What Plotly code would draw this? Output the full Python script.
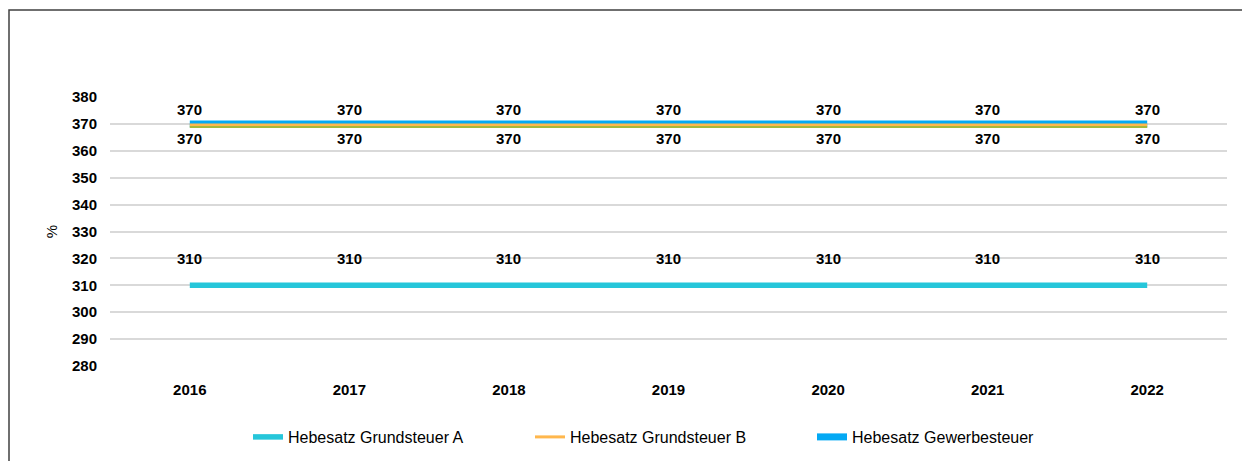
import plotly.graph_objects as go

years = ["2016", "2017", "2018", "2019", "2020", "2021", "2022"]
grundsteuer_a = [310, 310, 310, 310, 310, 310, 310]
grundsteuer_b = [370, 370, 370, 370, 370, 370, 370]
gewerbesteuer = [370, 370, 370, 370, 370, 370, 370]

FONT = "Liberation Sans, Arial, sans-serif"
COLORS = {
    "a": "rgb(38,198,218)",
    "b": "rgb(255,183,77)",
    "gew": "rgb(3,169,244)",
    "gew_low": "rgb(165,185,60)",
    "grid": "rgb(217,217,217)",
}

# the page body has an 8px margin, so the figure is a little smaller than the window
W, H = 1242, 453
L, R, T, B = 102, 23, 89, 95
plot_w, plot_h = W - L - R, H - T - B
px_per_unit = plot_h / 100

fig = go.Figure()
fig.add_trace(
    go.Scatter(
        x=years, y=grundsteuer_a, name="Hebesatz Grundsteuer A", mode="lines",
        line={"color": COLORS["a"], "width": 5.5}, legendrank=1,
    )
)
fig.add_trace(
    go.Scatter(
        x=years, y=gewerbesteuer, name="Hebesatz Gewerbesteuer", mode="lines",
        line={"color": COLORS["gew"], "width": 7}, legendrank=3,
    )
)
# lower edge of the Gewerbesteuer line
fig.add_trace(
    go.Scatter(
        x=years, y=gewerbesteuer, yaxis="y3", mode="lines", showlegend=False,
        line={"color": COLORS["gew_low"], "width": 2}, hoverinfo="skip",
    )
)
fig.add_trace(
    go.Scatter(
        x=years, y=grundsteuer_b, name="Hebesatz Grundsteuer B", yaxis="y2",
        mode="lines", line={"color": COLORS["b"], "width": 3}, legendrank=2,
    )
)

# data labels; x given as category index (numeric-looking strings would be read as indices)
annotations = []
for values, shift in ((grundsteuer_a, 27), (gewerbesteuer, 14), (grundsteuer_b, -15)):
    for i, v in enumerate(values):
        annotations.append(
            dict(x=i, y=v, xref="x", yref="y", text=str(v), showarrow=False,
                 yshift=shift, font={"size": 15, "color": "black", "weight": "bold"})
        )

hidden = dict(overlaying="y", visible=False, showgrid=False)
fig.update_layout(
    width=W,
    height=H,
    paper_bgcolor="white",
    plot_bgcolor="white",
    font={"family": FONT, "size": 15, "color": "black"},
    margin={"l": L, "r": R, "t": T, "b": B, "autoexpand": False},
    xaxis={
        "type": "category",
        "range": [-0.5, 6.5],
        "showgrid": False,
        "ticks": "",
        "tickfont": {"size": 15, "weight": "bold"},
        "ticklabelstandoff": 13,
        "showline": False,
    },
    yaxis={
        "range": [280, 380],
        "dtick": 10,
        "gridcolor": COLORS["grid"],
        "gridwidth": 2,
        "zeroline": False,
        "tickfont": {"size": 15, "weight": "bold"},
        "ticklabelstandoff": 12,
        "title": {"text": "%", "standoff": 10, "font": {"size": 15}},
    },
    yaxis2=dict(range=[280 + 1 / px_per_unit, 380 + 1 / px_per_unit], **hidden),
    yaxis3=dict(range=[280 + 3.2 / px_per_unit, 380 + 3.2 / px_per_unit], **hidden),
    legend={
        "orientation": "h",
        "x": (240 - L) / plot_w,
        "xanchor": "left",
        "y": (plot_h + T - 429) / plot_h,
        "yanchor": "middle",
        "entrywidth": 237,
        "entrywidthmode": "pixels",
        "font": {"size": 16},
        "traceorder": "normal",
    },
    showlegend=True,
    annotations=annotations,
    shapes=[
        {
            "type": "rect", "xref": "paper", "yref": "paper",
            "x0": (1 - L) / plot_w, "x1": 1.1,
            "y0": -0.5, "y1": (plot_h + T - 2) / plot_h,
            "line": {"color": "rgb(64,64,64)", "width": 1.5},
            "fillcolor": "rgba(0,0,0,0)", "layer": "below",
        }
    ],
)

fig.write_html("out.html")
